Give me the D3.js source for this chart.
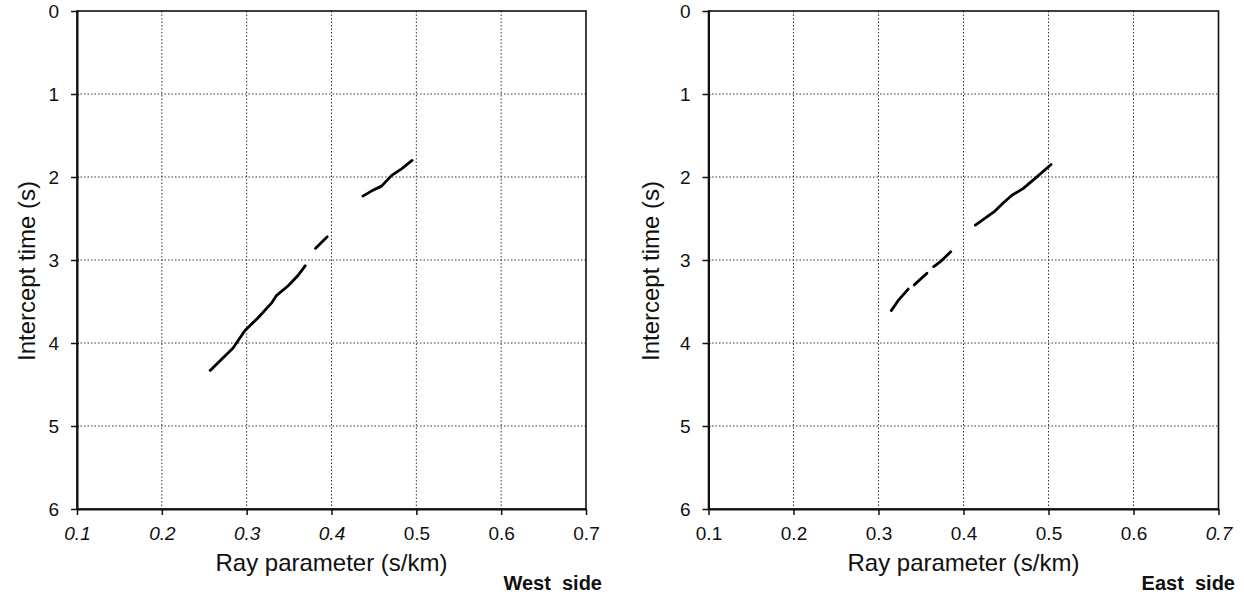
<!DOCTYPE html>
<html>
<head>
<meta charset="utf-8">
<script src="https://cdnjs.cloudflare.com/ajax/libs/d3/7.8.5/d3.min.js"></script>
<style>
  body { margin: 0; background: #fff; }
  text { font-family: "Liberation Sans", Arial, Helvetica, sans-serif; fill: #111; }
  .axis text { font-size: 19px; }
  .axis path, .axis line { stroke: #111; }
  .grid line { stroke: #333; stroke-width: 1; stroke-dasharray: 1.5, 2; }
  .branch { fill: none; stroke: #000; stroke-width: 2.8; stroke-linecap: round; stroke-linejoin: round; }
  .axisTitle { font-size: 24px; }
  .side { font-size: 20px; font-weight: bold; white-space: pre; }
</style>
</head>
<body>
<div class="chart"></div>
<script>
// tick values
var rayTicks = [0.1, 0.2, 0.3, 0.4, 0.5, 0.6, 0.7];
var timeTicks = [0, 1, 2, 3, 4, 5, 6];

// West side: tau-p branches, [ray parameter (s/km), intercept time (s)]
var westLower = [[0.257, 4.33], [0.284, 4.06], [0.298, 3.85], [0.314, 3.69], [0.330, 3.51],
                 [0.335, 3.43], [0.349, 3.31], [0.361, 3.18], [0.369, 3.07]];
var westMiddle = [[0.381, 2.86], [0.395, 2.72]];
var westUpper = [[0.437, 2.23], [0.447, 2.17], [0.459, 2.11], [0.471, 1.98], [0.483, 1.90], [0.495, 1.80]];

// East side branches
var eastLower1 = [[0.315, 3.61], [0.323, 3.49], [0.335, 3.35]];
var eastLower2 = [[0.342, 3.30], [0.357, 3.16]];
var eastLower3 = [[0.365, 3.08], [0.374, 3.01], [0.385, 2.90]];
var eastUpper = [[0.414, 2.58], [0.437, 2.41], [0.447, 2.31], [0.457, 2.22], [0.470, 2.14],
                 [0.484, 2.02], [0.503, 1.85]];

var svgWidth = 1244;
var svgHeight = 597;

var svg = d3.select(".chart")
    .append("svg")
    .attr("width", svgWidth)
    .attr("height", svgHeight);

var panels = [
    { left: 77, right: 586, titleX: 27, sideX: 602, side: "West  side",
      branches: [westLower, westMiddle, westUpper], italic: [0.1, 0.2, 0.3, 0.4] },
    { left: 708.5, right: 1218.5, titleX: 651, sideX: 1235, side: "East  side",
      branches: [eastLower1, eastLower2, eastLower3, eastUpper], italic: [0.7] }
];

var plotTop = 11, plotBottom = 509;

panels.forEach(drawPanel);

function drawPanel(cfg) {
    var xScale = d3.scaleLinear().domain([0.1, 0.7]).range([cfg.left, cfg.right]);
    var yScale = d3.scaleLinear().domain([0, 6]).range([plotTop, plotBottom]);

    var g = svg.append("g");

    // dotted grid
    var grid = g.append("g").attr("class", "grid");
    grid.selectAll(".vline")
        .data(rayTicks.slice(1, -1))
        .enter()
        .append("line")
        .attr("x1", d => xScale(d)).attr("x2", d => xScale(d))
        .attr("y1", plotTop).attr("y2", plotBottom);
    grid.selectAll(".hline")
        .data(timeTicks.slice(1, -1))
        .enter()
        .append("line")
        .attr("y1", d => yScale(d)).attr("y2", d => yScale(d))
        .attr("x1", cfg.left).attr("x2", cfg.right);

    // frame (top and right)
    g.append("rect")
        .attr("x", cfg.left).attr("y", plotTop)
        .attr("width", cfg.right - cfg.left).attr("height", plotBottom - plotTop)
        .attr("fill", "none").attr("stroke", "#111").attr("stroke-width", 1.6);

    // axes
    var leftAxis = d3.axisLeft(yScale).tickValues(timeTicks).tickSize(6).tickSizeOuter(0).tickPadding(12)
        .tickFormat(d3.format("d"));
    var bottomAxis = d3.axisBottom(xScale).tickValues(rayTicks).tickSize(6).tickSizeOuter(0).tickPadding(12)
        .tickFormat(d3.format(".1f"));

    var yAxisG = g.append("g")
        .attr("class", "axis")
        .attr("transform", `translate(${cfg.left}, 0)`)
        .call(leftAxis);
    yAxisG.select(".domain").attr("stroke-width", 2);
    yAxisG.selectAll(".tick line").attr("stroke-width", 1.5).attr("x2", -6).attr("x1", 2);

    var xAxisG = g.append("g")
        .attr("class", "axis")
        .attr("transform", `translate(0, ${plotBottom})`)
        .call(bottomAxis);
    xAxisG.select(".domain").attr("stroke-width", 2);
    xAxisG.selectAll(".tick line").attr("stroke-width", 1.5);
    xAxisG.selectAll(".tick text")
        .style("font-style", d => cfg.italic.indexOf(d) >= 0 ? "italic" : "normal");

    // branches
    var line = d3.line()
        .x(d => xScale(d[0]))
        .y(d => yScale(d[1]));

    g.selectAll(".branch")
        .data(cfg.branches)
        .enter()
        .append("path")
        .attr("class", "branch")
        .attr("d", line);

    // axis titles
    g.append("text")
        .attr("class", "axisTitle")
        .attr("text-anchor", "middle")
        .attr("x", (cfg.left + cfg.right) / 2)
        .attr("y", 571)
        .text("Ray parameter (s/km)");

    g.append("text")
        .attr("class", "axisTitle")
        .attr("text-anchor", "middle")
        .attr("transform", `translate(${cfg.titleX}, 271) rotate(-90)`)
        .attr("dy", "0.35em")
        .text("Intercept time (s)");

    g.append("text")
        .attr("class", "side")
        .attr("text-anchor", "end")
        .attr("x", cfg.sideX)
        .attr("y", 590)
        .text(cfg.side);
}
</script>
</body>
</html>
